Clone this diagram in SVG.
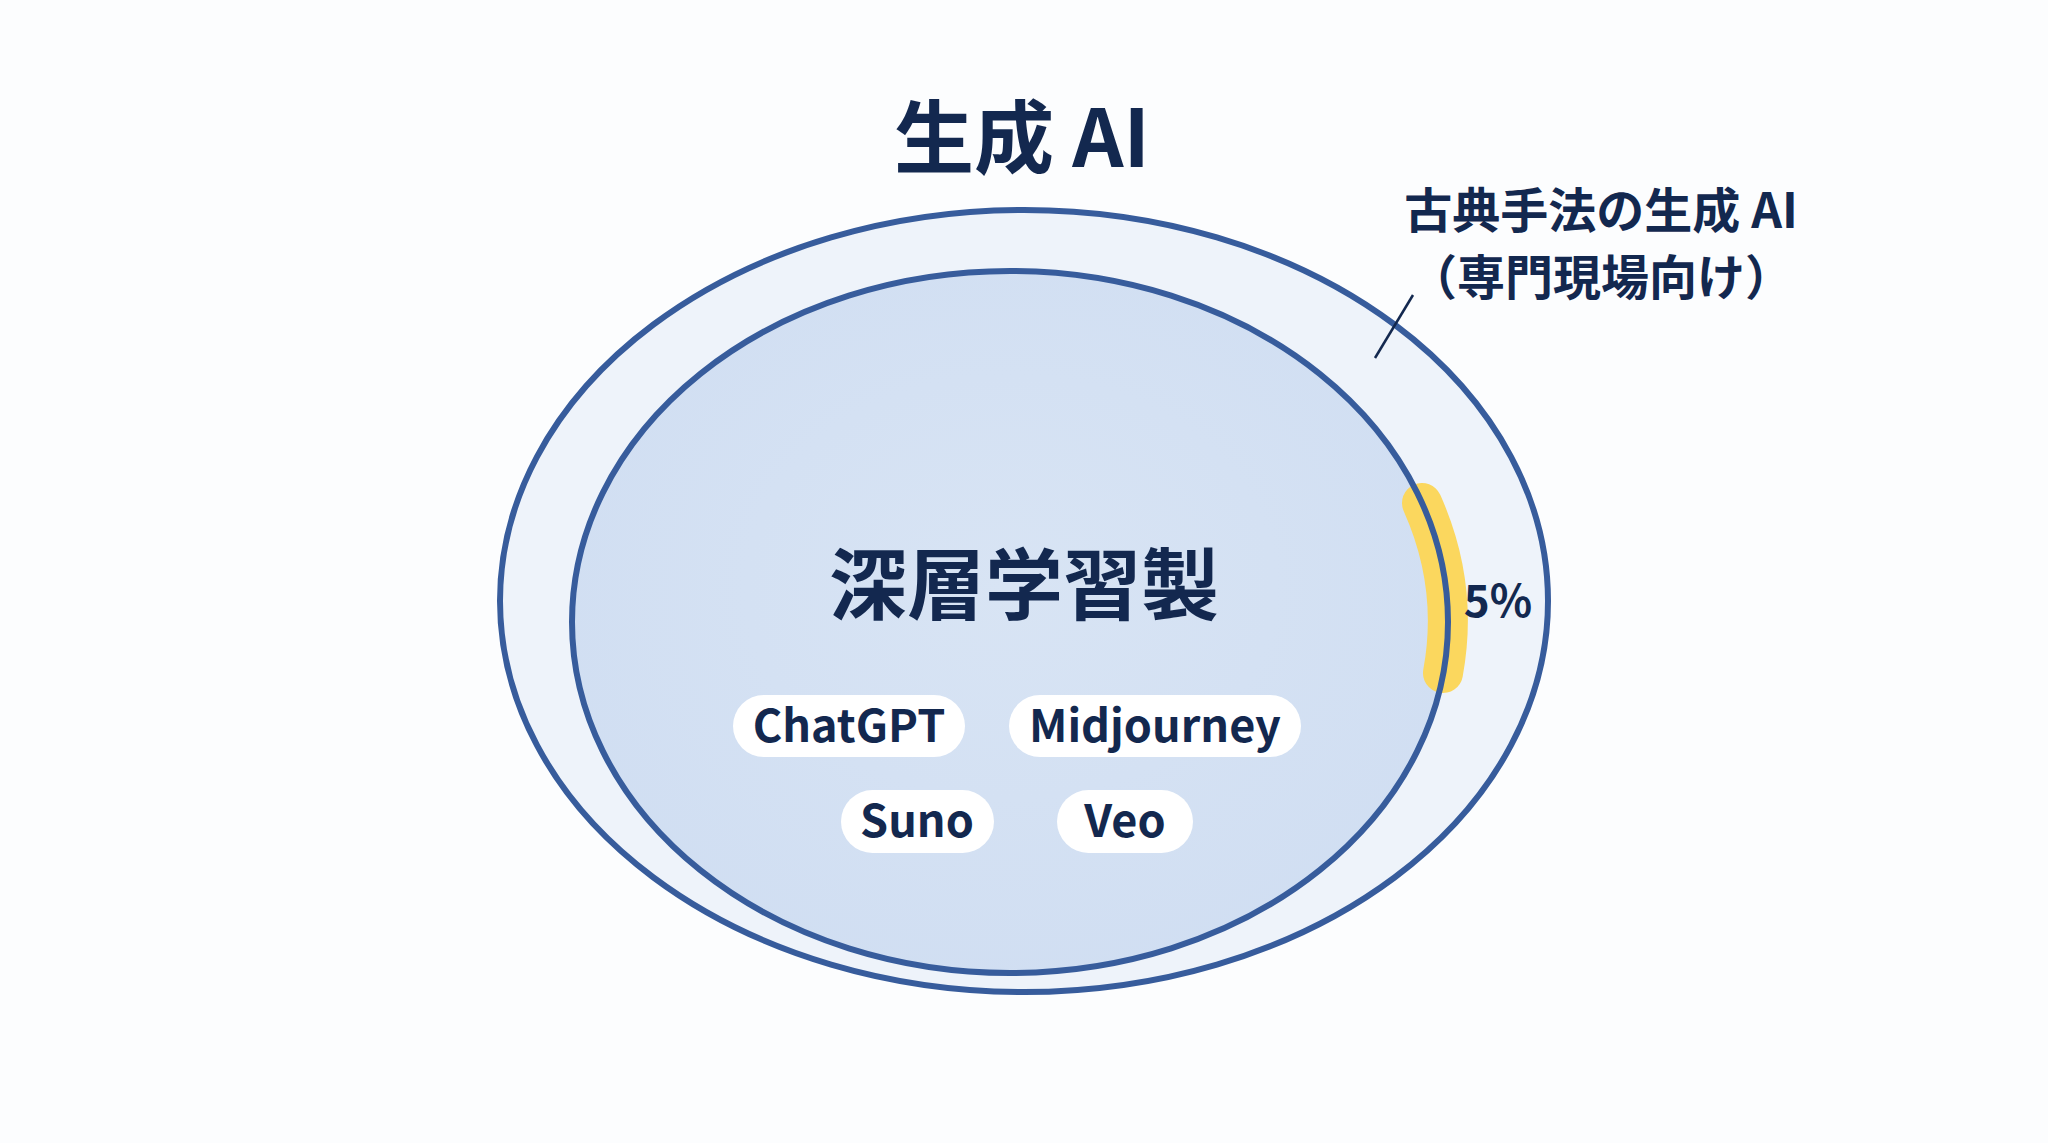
<svg xmlns="http://www.w3.org/2000/svg" width="2048" height="1143" viewBox="0 0 2048 1143">
<defs>
<style>
.t{font-family:"Noto Sans CJK JP","Noto Sans",sans-serif;font-weight:700;fill:#13284f;text-anchor:middle}
.ring{fill:none;stroke:#375c9c;stroke-width:6}
.pill{fill:#ffffff}
</style>
<radialGradient id="gIn" cx="0.5" cy="0.45" r="0.6">
<stop offset="0" stop-color="#d8e4f4"/>
<stop offset="1" stop-color="#d0def2"/>
</radialGradient>
</defs>
<rect width="2048" height="1143" fill="#fcfdfe"/>
<g id="title"><text class="t" x="1022" y="167" font-size="80">生成 AI</text></g>
<g id="outer">
<ellipse class="ring" cx="1024" cy="601" rx="524" ry="391" style="fill:#eef3fa"/>
</g>
<g id="inner">
<ellipse cx="1010" cy="622" rx="438" ry="351" fill="url(#gIn)"/>
<path d="M1422 503 A438 351 0 0 1 1443 673" fill="none" stroke="#fbd75e" stroke-width="40" stroke-linecap="round"/>
<ellipse class="ring" cx="1010" cy="622" rx="438" ry="351"/>
<text class="t" x="1024" y="614" font-size="78">深層学習製</text>
</g>
<g id="share"><text class="t" x="1498" y="617" font-size="44">5%</text></g>
<g id="classic">
<text class="t" x="1601" y="228" font-size="48">古典手法の生成 AI</text>
<text class="t" x="1601" y="295" font-size="48">（専門現場向け）</text>
</g>
<g id="pill-chatgpt"><rect class="pill" x="733" y="695" width="232" height="62" rx="31"/><text class="t" x="849" y="742" font-size="45">ChatGPT</text></g>
<g id="pill-midjourney"><rect class="pill" x="1009" y="695" width="292" height="62" rx="31"/><text class="t" x="1155" y="742" font-size="45">Midjourney</text></g>
<g id="pill-suno"><rect class="pill" x="841" y="790" width="153" height="63" rx="31.5"/><text class="t" x="917" y="837" font-size="45">Suno</text></g>
<g id="pill-veo"><rect class="pill" x="1057" y="790" width="136" height="63" rx="31.5"/><text class="t" x="1125" y="837" font-size="45">Veo</text></g>
<g id="connectors">
<line x1="1413" y1="295" x2="1375" y2="358" stroke="#13284f" stroke-width="2.5"/>
</g>
</svg>
